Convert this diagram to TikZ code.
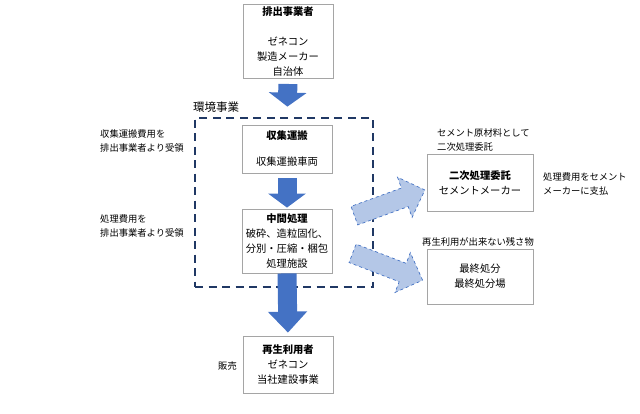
\documentclass[tikz,border=0pt]{standalone}
\usepackage{fontspec}
\setmainfont{Noto Sans CJK JP}
\usetikzlibrary{arrows.meta, positioning, shapes.arrows}
\definecolor{flowblue}{RGB}{68,114,196}
\definecolor{lightflow}{RGB}{180,199,231}
\definecolor{envnavy}{RGB}{32,56,100}
\definecolor{boxgray}{RGB}{165,165,165}

\begin{document}
\begin{tikzpicture}[
    x=1pt, y=-1pt,
    stagebox/.style={draw=boxgray, line width=0.8pt, fill=white, align=center, inner sep=2pt, font=\fontsize{10.3}{15}\selectfont},
    note/.style={align=left, inner sep=0pt, anchor=west, font=\fontsize{9.3}{13.5}\selectfont},
    envframe/.style={draw=envnavy, line width=1.8pt, dash pattern=on 8pt off 5.5pt, minimum width=178pt, minimum height=169pt},
    flow/.style={line width=19pt, flowblue, -{Triangle[length=14pt, width=37pt]}},
    sideflow/.style={single arrow, draw=flowblue, dashed, fill=lightflow, line width=0.7pt, inner xsep=0pt, inner ysep=9.5pt, minimum height=75pt, single arrow head extend=11.5pt}
]
    \useasboundingbox (0,0) rectangle (640,413);

    % Environment business frame
    \node[envframe] (env) at (284,202.5) {};
    \node[anchor=west, inner sep=0pt, font=\fontsize{11.5}{14}\selectfont] (envlabel) at (193,107) {環境事業};

    % Stages
    \node[stagebox, minimum width=90pt, minimum height=73pt] (emitter) at (288,41.5) {\textbf{排出事業者}\\[15.5pt]ゼネコン\\製造メーカー\\自治体};
    \node[stagebox, minimum width=90pt, minimum height=48pt] (collect) at (287,149) {\textbf{収集運搬}\\[11pt]収集運搬車両};
    \node[stagebox, minimum width=90pt, minimum height=64pt] (mid) at (287,241) {\textbf{中間処理}\\破砕、造粒固化、\\分別・圧縮・梱包\\処理施設};
    \node[stagebox, minimum width=90pt, minimum height=57pt] (user) at (288,364.5) {\textbf{再生利用者}\\ゼネコン\\当社建設事業};
    \node[stagebox, minimum width=106pt, minimum height=57pt] (second) at (480,182.5) {\textbf{二次処理委託}\\セメントメーカー};
    \node[stagebox, minimum width=106pt, minimum height=55pt] (final) at (480,276.5) {最終処分\\最終処分場};

    % Notes
    \node[note] (collectfee) at (100,141) {収集運搬費用を\\排出事業者より受領};
    \node[note] (procfee) at (100,226) {処理費用を\\排出事業者より受領};
    \node[note, anchor=east] (sale) at (237,366) {販売};
    \node[note] (cementnote) at (437,140) {セメント原材料として\\二次処理委託};
    \node[note] (paynote) at (543,184) {処理費用をセメント\\メーカーに支払};
    \node[note] (residue) at (422,242) {再生利用が出来ない残さ物};

    % Flows
    \draw[flow, shorten <=5pt, shorten >=18pt] (emitter.south) -- (collect.north);
    \draw[flow, shorten <=5pt, shorten >=1pt] (collect.south) -- (mid.north);
    \draw[flow, -{Triangle[length=21pt, width=38pt]}, shorten >=3pt] (mid.south) -- (user.north);
    \node[sideflow, rotate=20] (toSecond) at (385,204.5) {};
    \node[sideflow, rotate=-21] (toFinal) at (383,265) {};
\end{tikzpicture}
\end{document}
